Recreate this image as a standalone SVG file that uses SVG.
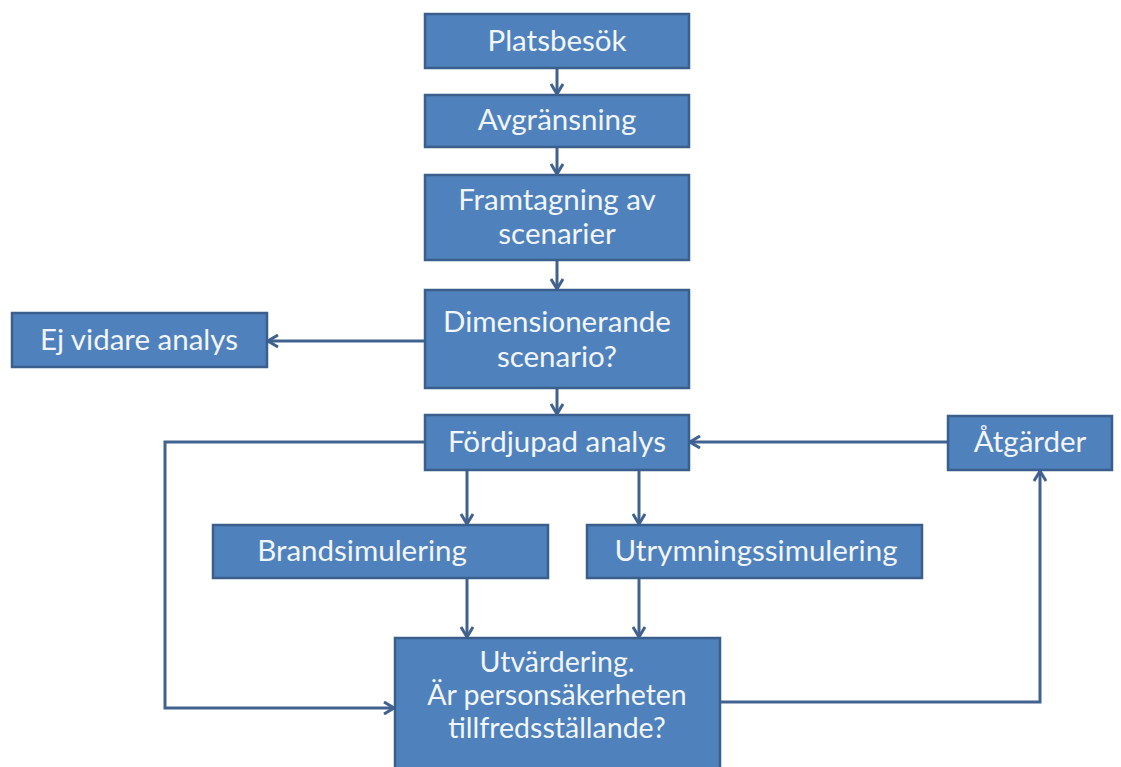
<svg xmlns="http://www.w3.org/2000/svg" width="1121" height="767" viewBox="0 0 1121 767">
<style>
.box{fill:#4F81BD;stroke:#3A5F8C;stroke-width:2.5}
.t{font-family:Lato,"Open Sans","Liberation Sans",sans-serif;font-size:29.5px;fill:#F2F6FB;text-anchor:middle}
.s{font-size:28.5px}
.c{fill:none;stroke:#41628F;stroke-width:3}
</style>
<defs>
<marker id="a" viewBox="0 0 14 14" refX="13" refY="7" markerWidth="14" markerHeight="14" markerUnits="userSpaceOnUse" orient="auto">
<path d="M3,1 L13,7 L3,13" fill="none" stroke="#41628F" stroke-width="3"/>
</marker>
</defs>
<rect width="1121" height="767" fill="#fff"/>
<g id="connectors">
<line class="c" x1="557" y1="68" x2="557" y2="94" marker-end="url(#a)"/>
<line class="c" x1="557" y1="147" x2="557" y2="174" marker-end="url(#a)"/>
<line class="c" x1="557" y1="260" x2="557" y2="289" marker-end="url(#a)"/>
<line class="c" x1="425" y1="341" x2="268" y2="341" marker-end="url(#a)"/>
<line class="c" x1="557" y1="388" x2="557" y2="414" marker-end="url(#a)"/>
<line class="c" x1="467" y1="470" x2="467" y2="524" marker-end="url(#a)"/>
<line class="c" x1="639" y1="470" x2="639" y2="524" marker-end="url(#a)"/>
<line class="c" x1="467" y1="578" x2="467" y2="637" marker-end="url(#a)"/>
<line class="c" x1="639" y1="578" x2="639" y2="637" marker-end="url(#a)"/>
<polyline class="c" points="425,442 165,442 165,708 394,708" marker-end="url(#a)"/>
<polyline class="c" points="720,702 1040,702 1040,471" marker-end="url(#a)"/>
<line class="c" x1="948" y1="442" x2="690" y2="442" marker-end="url(#a)"/>
</g>
<g id="platsbesok"><rect class="box" x="425" y="14" width="264" height="54"/><text class="t" x="557" y="51">Platsbesök</text></g>
<g id="avgransning"><rect class="box" x="425" y="95" width="264" height="52"/><text class="t" x="557" y="130">Avgränsning</text></g>
<g id="framtagning"><rect class="box" x="425" y="175" width="264" height="85"/><text class="t" x="557" y="210">Framtagning av</text><text class="t" x="557" y="244">scenarier</text></g>
<g id="dimensionerande"><rect class="box" x="425" y="290" width="264" height="98"/><text class="t" x="557" y="332">Dimensionerande</text><text class="t" x="557" y="367">scenario?</text></g>
<g id="ejvidare"><rect class="box" x="12" y="313" width="255" height="54"/><text class="t" x="139" y="350">Ej vidare analys</text></g>
<g id="fordjupad"><rect class="box" x="425" y="415" width="264" height="55"/><text class="t" x="557" y="452">Fördjupad analys</text></g>
<g id="atgarder"><rect class="box" x="948" y="416" width="164" height="54"/><text class="t" x="1030" y="452">Åtgärder</text></g>
<g id="brandsimulering"><rect class="box" x="213" y="525" width="335" height="53"/><text class="t" x="362" y="561">Brandsimulering</text></g>
<g id="utrymningssimulering"><rect class="box" x="587" y="525" width="335" height="53"/><text class="t" x="756" y="561">Utrymningssimulering</text></g>
<g id="utvardering"><rect class="box" x="395" y="638" width="325" height="140"/><text class="t s" x="557" y="672">Utvärdering.</text><text class="t s" x="557" y="705">Är personsäkerheten</text><text class="t s" x="557" y="738">tillfredsställande?</text></g>
</svg>
